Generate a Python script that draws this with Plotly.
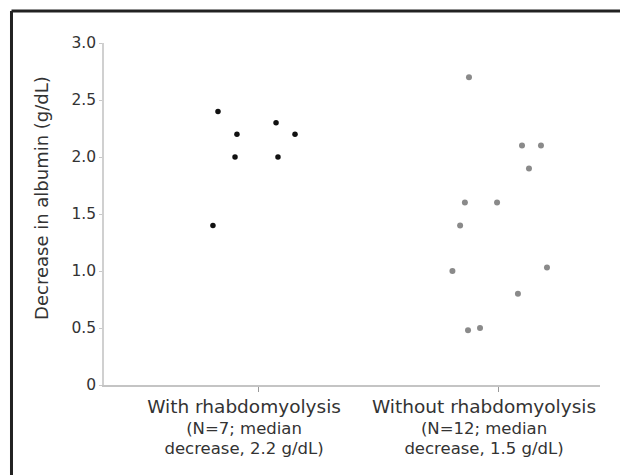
import plotly.graph_objects as go

# ---- data ----
groups = ["With rhabdomyolysis", "Without rhabdomyolysis"]
group_notes = ["(N=7; median<br>decrease, 2.2 g/dL)", "(N=12; median<br>decrease, 1.5 g/dL)"]

with_vals = [2.4, 2.2, 2.0, 2.3, 2.0, 2.2, 1.4]
with_jitter = [-0.167, -0.088, -0.096, 0.075, 0.083, 0.154, -0.188]

without_vals = [2.7, 2.1, 2.1, 1.9, 1.6, 1.6, 1.4, 1.0, 1.03, 0.8, 0.48, 0.5]
without_jitter = [-0.121, 0.100, 0.179, 0.129, -0.138, -0.004, -0.158, -0.190, 0.204, 0.083, -0.125, -0.075]

y_ticks = [0, 0.5, 1.0, 1.5, 2.0, 2.5, 3.0]
y_tick_labels = ["0", "0.5", "1.0", "1.5", "2.0", "2.5", "3.0"]
y_title = "Decrease in albumin (g/dL)"

FONT = "DejaVu Sans"
TXT = "#333333"

fig = go.Figure()
fig.add_trace(go.Scatter(
    x=[0 + j for j in with_jitter], y=with_vals, mode="markers",
    marker=dict(size=5.5, color="#111111"), showlegend=False, hoverinfo="y"))
fig.add_trace(go.Scatter(
    x=[1 + j for j in without_jitter], y=without_vals, mode="markers",
    marker=dict(size=6, color="#8a8a8a"), showlegend=False, hoverinfo="y"))

SUB = '<span style="font-size:16.5px">'
ticktext = [
    f'<span style="font-size:18.5px">{g}</span><br>{SUB}' + n.replace("<br>", "</span><br>" + SUB) + "</span>"
    for g, n in zip(groups, group_notes)
]

frame = dict(xref="paper", yref="paper", line=dict(color="#222222", width=3), layer="above")

fig.update_layout(
    width=620, height=475,
    margin=dict(l=104, r=20, t=43, b=90, autoexpand=False),
    paper_bgcolor="white", plot_bgcolor="white",
    font=dict(family=FONT, color=TXT),
    xaxis=dict(
        range=[-0.642, 1.425], tickvals=[0, 1], ticktext=ticktext,
        showgrid=False, zeroline=False, showline=True, linecolor="#c4c4c4", linewidth=1.5,
        ticks="outside", ticklen=5, tickcolor="#999999", tickwidth=1,
        ticklabelshift=-14, ticklabelstandoff=3,
        tickfont=dict(family=FONT, size=15.5, color=TXT),
    ),
    yaxis=dict(
        range=[0, 3.0], tickvals=y_ticks, ticktext=y_tick_labels,
        showgrid=False, zeroline=False, showline=True, linecolor="#d0d0d0", linewidth=1.5,
        ticks="outside", ticklen=3, tickcolor="#c8c8c8",
        tickfont=dict(family=FONT, size=15.5, color=TXT),
    ),
    shapes=[
        dict(type="line", x0=-0.1865, x1=1.1, y0=1.0936, y1=1.0936, **frame),
        dict(type="line", x0=-0.1865, x1=-0.1865, y0=-0.3, y1=1.0936, **frame),
    ],
    annotations=[dict(text=y_title, xref="paper", yref="paper",
                      x=-0.125, y=0.547, textangle=-90, showarrow=False,
                      xanchor="center", yanchor="middle",
                      font=dict(family=FONT, size=18, color=TXT))],
)

fig.write_html("out.html", config={"displayModeBar": False},
               post_script="document.body.style.margin='0';document.body.style.overflow='hidden';")
